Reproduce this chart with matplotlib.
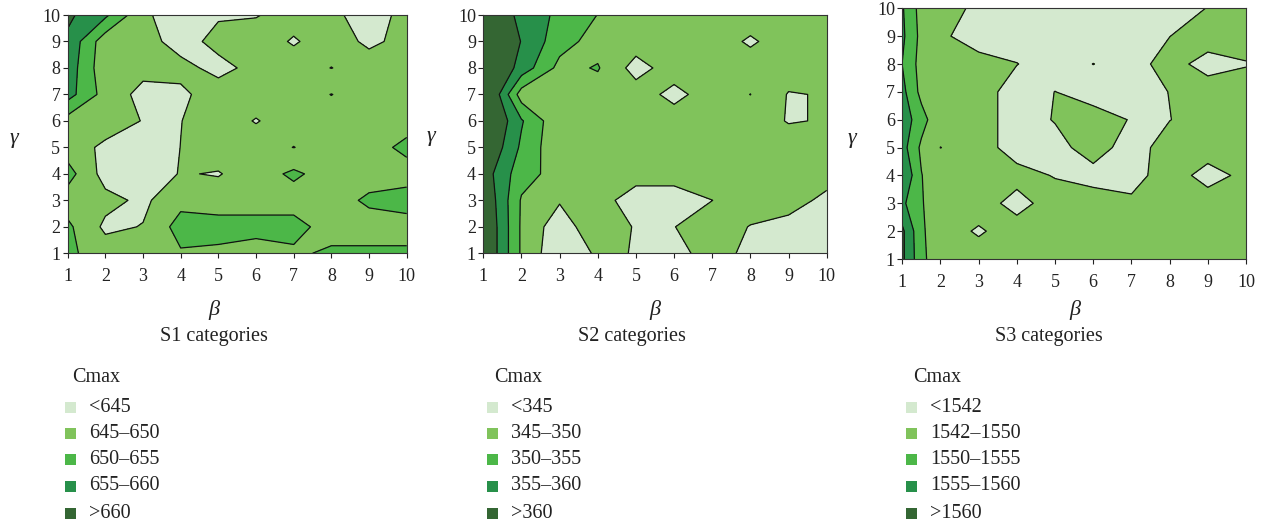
import numpy as np
import matplotlib
matplotlib.use("Agg")
import matplotlib.pyplot as plt
from matplotlib.patches import Rectangle

plt.rcParams['font.family'] = ['Liberation Serif', 'DejaVu Serif']

# ---- data -------------------------------------------------------------
gamma = np.arange(1, 11)

# S1 categories: Cmax over (beta, gamma); rows are gamma = 1..10
beta_s1 = np.arange(1, 11)
cmax_s1 = np.array([
    [651, 647.5, 647.5, 649.5, 649, 647.5, 649, 651, 651, 651],
    [651, 644, 645.2, 652, 652, 652, 652, 647.5, 647.5, 647.5],
    [647.5, 646.5, 644, 648.5, 647.5, 647.5, 647.5, 647.5, 651, 652.5],
    [652, 643, 642, 645.3, 644.7, 647.5, 651, 647.5, 647.5, 647.5],
    [647.5, 644, 642, 645.05, 647.5, 647.5, 644.9, 647.5, 647.5, 651.5],
    [648, 647.5, 644.8, 644.9, 647.5, 644.7, 647.5, 647.5, 647.5, 647.5],
    [657, 648, 643.5, 644, 647.5, 647.5, 647.5, 650.1, 647.5, 647.5],
    [658, 646.5, 646.5, 646.5, 643.5, 646.5, 647.5, 644.9, 647.5, 647.5],
    [659, 647, 647, 643, 646.5, 647.5, 644.5, 647.5, 644, 646.5],
    [661, 656, 646, 642, 644.5, 644.7, 647, 646.5, 642, 647],
])
levels_s1 = [645, 650, 655, 660]
labels_s1 = ['<645', '645\u2013650', '650\u2013655', '655\u2013660', '>660']

# S2 categories
beta_s2 = np.arange(1, 11)
cmax_s2 = np.array([
    [366, 349.3, 341, 345.8, 344.8, 343, 347.5, 343.5, 341, 340],
    [366, 349.3, 342, 349, 344.5, 344.9, 347.5, 344.8, 343, 341],
    [365, 349.5, 345.5, 347.5, 342, 342, 344.97, 347.5, 347.5, 343.5],
    [362.8, 352, 348, 347.5, 347.5, 347.5, 347.5, 347.5, 347.5, 347.5],
    [366, 354.1, 346, 347.5, 347.5, 347.5, 347.5, 347.5, 347.5, 347.5],
    [368, 355.5, 346, 347.5, 347.5, 347.5, 347.5, 347.5, 344.7, 345.3],
    [369, 347.5, 347.5, 347.5, 347.5, 343.5, 347.5, 350.05, 344.7, 345.3],
    [368, 358, 348.5, 350.4, 343, 347.5, 347.5, 347.5, 347.5, 347.5],
    [368, 359.8, 352, 348, 347.5, 347.5, 347.5, 344.3, 347.5, 347.5],
    [368, 358, 354, 349.9, 347.5, 347.5, 347.5, 347.5, 347.5, 347.5],
])
levels_s2 = [345, 350, 355, 360]
labels_s2 = ['<345', '345\u2013350', '350\u2013355', '355\u2013360', '>360']

# S3 categories (extra sample column at beta = 1.5)
beta_s3 = np.array([1, 1.5, 2, 3, 4, 5, 6, 7, 8, 9, 10])
cmax_s3 = np.array([
    [1561, 1551.5, 1546, 1546, 1546, 1546, 1546, 1546, 1546, 1546, 1546],
    [1561, 1551, 1546, 1541, 1546, 1546, 1546, 1546, 1546, 1546, 1546],
    [1556, 1550.5, 1546, 1546, 1539, 1546, 1546, 1543.5, 1546, 1546, 1546],
    [1560.1, 1550.2, 1546, 1546, 1545, 1541.5, 1539, 1539, 1546, 1539, 1544],
    [1557, 1549, 1541.9, 1546, 1538, 1539, 1546, 1538, 1546, 1546, 1546],
    [1558, 1552, 1546, 1546, 1538, 1542.5, 1546, 1541.5, 1541.8, 1546, 1546],
    [1556.5, 1548.5, 1546, 1546, 1538, 1542.1, 1538, 1538, 1542.2, 1546, 1546],
    [1554.9, 1548, 1546, 1545, 1542.2, 1538, 1542.1, 1539, 1545, 1539, 1541.5],
    [1556, 1548.5, 1543.5, 1538, 1538, 1538, 1538, 1538, 1541.9, 1546, 1546],
    [1555.5, 1548, 1546, 1540, 1538, 1538, 1538, 1538, 1539, 1542.2, 1546],
])
levels_s3 = [1542, 1550, 1555, 1560]
labels_s3 = ['<1542', '1542\u20131550', '1550\u20131555', '1555\u20131560', '>1560']

titles = ['S1 categories', 'S2 categories', 'S3 categories']
band_colors = ['#d4e9cf', '#80c35b', '#4cb748', '#27904a', '#346633']

# ---- layout (pixel geometry of the 1270 x 527 canvas) -----------------
W, H = 1270, 527
fig = plt.figure(figsize=(W / 100, H / 100), dpi=100)


def fx(x):
    return x / W


def fy(y):
    return 1 - y / H


panels = [
    dict(beta=beta_s1, z=cmax_s1, levels=levels_s1, labels=labels_s1,
         box=(67.7, 15.0, 406.7, 253.3), glab=(14, 138), blab=(214, 310),
         title=(214, 337), leg_x=65),
    dict(beta=beta_s2, z=cmax_s2, levels=levels_s2, labels=labels_s2,
         box=(483.3, 15.0, 826.7, 253.3), glab=(431, 137), blab=(655, 310),
         title=(632, 337), leg_x=487),
    dict(beta=beta_s3, z=cmax_s3, levels=levels_s3, labels=labels_s3,
         box=(902.3, 8.3, 1246.0, 259.0), glab=(852, 138), blab=(1075, 310),
         title=(1049, 337), leg_x=906),
]

leg_rows = [407, 433, 459, 486, 513]

for p, title in zip(panels, titles):
    x0, y0, x1, y1 = p['box']
    ax = fig.add_axes([fx(x0), fy(y1), (x1 - x0) / W, (y1 - y0) / H])
    B, G = np.meshgrid(p['beta'], gamma)
    z = p['z']
    bounds = [z.min() - 1] + list(p['levels']) + [z.max() + 1]
    ax.contourf(B, G, z, levels=bounds, colors=band_colors)
    ax.contour(B, G, z, levels=p['levels'], colors='#111111', linewidths=0.9)

    ax.set_xlim(1, 10)
    ax.set_ylim(1, 10)
    ax.set_xticks(range(1, 11))
    ax.set_yticks(range(1, 11))
    ax.tick_params(axis='both', direction='out', length=3.8, width=0.8,
                   colors='#222222', labelsize=13, labelcolor='#222222')
    ax.tick_params(axis='x', pad=7)
    ax.tick_params(axis='y', pad=1.5)
    for s in ax.spines.values():
        s.set_color('#333333')
        s.set_linewidth(0.8)

    fig.text(fx(p['glab'][0]), fy(p['glab'][1]), '\u03b3', fontsize=16,
             fontstyle='italic', ha='center', va='center', color='#222222')
    fig.text(fx(p['blab'][0]), fy(p['blab'][1]), '\u03b2', fontsize=16,
             fontstyle='italic', ha='center', va='center', color='#222222')
    fig.text(fx(p['title'][0]), fy(p['title'][1]), title, fontsize=14.5,
             ha='center', va='center', color='#222222')

    # colour key below each panel
    lx = p['leg_x']
    fig.text(fx(lx + 7), fy(377), 'Cmax', fontsize=14.5, ha='left',
             va='center', color='#222222')
    for yc, col, lab in zip(leg_rows, band_colors, p['labels']):
        fig.add_artist(Rectangle((fx(lx), fy(yc + 5.5)), 11 / W, 11 / H,
                                 transform=fig.transFigure, facecolor=col,
                                 edgecolor='none'))
        fig.text(fx(lx + 24), fy(yc), lab, fontsize=14.5, ha='left',
                 va='center', color='#222222')

fig.savefig('out.png', dpi=100)
